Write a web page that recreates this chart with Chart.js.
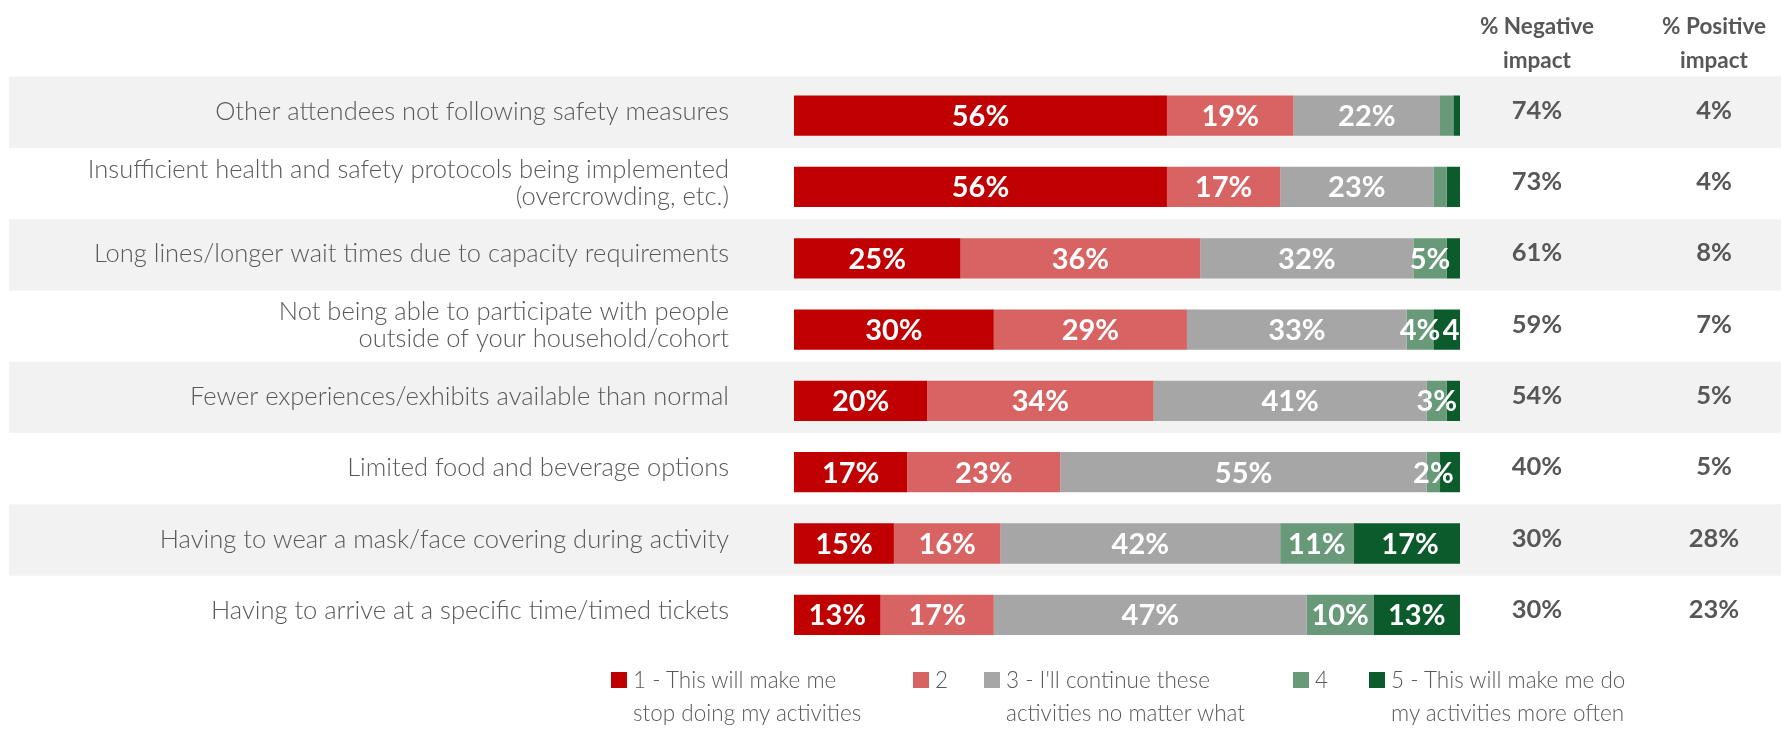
<!DOCTYPE html>
<html>
<head>
<meta charset="utf-8">
<script src="https://cdn.jsdelivr.net/npm/chart.js@4.4.1/dist/chart.umd.min.js"></script>
<style>
  html, body { margin: 0; padding: 0; background: #fff; }
  #wrap { position: relative; width: 1781px; height: 729px; }
  #legend {
    position: absolute; left: 0; top: 663px; width: 100%;
    font-family: Lato, sans-serif; font-weight: 300; font-size: 22.5px;
    color: #595959; line-height: 33px;
  }
  .item { position: absolute; top: 0; display: flex; align-items: flex-start; white-space: nowrap; }
  .swatch { width: 16px; height: 16px; margin: 9px 6px 0 0; flex: none; }
</style>
</head>
<body>
<div id="wrap">
  <canvas id="impact" width="1781" height="729"></canvas>
  <div id="legend"></div>
</div>
<script>
const categories = [
  'Other attendees not following safety measures',
  ['Insufficient health and safety protocols being implemented', '(overcrowding, etc.)'],
  'Long lines/longer wait times due to capacity requirements',
  ['Not being able to participate with people', 'outside of your household/cohort'],
  'Fewer experiences/exhibits available than normal',
  'Limited food and beverage options',
  'Having to wear a mask/face covering during activity',
  'Having to arrive at a specific time/timed tickets'
];

const seriesNames = [
  ['1 - This will make me', 'stop doing my activities'],
  ['2'],
  ["3 - I'll continue these", 'activities no matter what'],
  ['4'],
  ['5 - This will make me do', 'my activities more often']
];
const colors = ['#c00000', '#d86363', '#a6a6a6', '#689a7a', '#0c5b2c'];

const stop      = [56, 56, 25, 30, 20, 17, 15, 13];
const two       = [19, 17, 36, 29, 34, 23, 16, 17];
const continues = [22, 23, 32, 33, 41, 55, 42, 47];
const four      = [2, 2, 5, 4, 3, 2, 11, 10];
const more      = [1, 2, 2, 4, 2, 3, 17, 13];

const negative = [74, 73, 61, 59, 54, 40, 30, 30];
const positive = [4, 4, 8, 7, 5, 5, 28, 23];

// segments too thin to carry a label: [row, series]
const unlabeled = [[0, 3], [0, 4], [1, 3], [1, 4], [2, 4], [4, 4], [5, 4]];

const seriesData = [stop, two, continues, four, more];
const FONT = 'Lato, sans-serif';
const GREY = '#575757';

const tablePlugin = {
  id: 'table',
  beforeDraw(chart) {
    const { ctx, width, scales: { y } } = chart;
    const step = y.getPixelForValue(1) - y.getPixelForValue(0);
    ctx.save();
    ctx.fillStyle = '#f2f2f2';
    categories.forEach((_, i) => {
      if (i % 2) return;
      const c = y.getPixelForValue(i) - 3.5;
      ctx.fillRect(9, c - step / 2, width - 9, step);
    });
    ctx.restore();
  },
  afterDatasetsDraw(chart) {
    const { ctx, chartArea: a } = chart;
    ctx.save();
    ctx.beginPath();
    ctx.rect(a.left, a.top, a.right - a.left, a.bottom - a.top);
    ctx.clip();
    ctx.font = 'bold 29px ' + FONT;
    ctx.fillStyle = '#fff';
    ctx.textBaseline = 'middle';
    chart.data.datasets.forEach((ds, di) => {
      chart.getDatasetMeta(di).data.forEach((bar, i) => {
        if (unlabeled.some(([r, s]) => r === i && s === di)) return;
        const text = ds.data[i] + '%';
        const cx = (bar.x + bar.base) / 2;
        const w = ctx.measureText(text).width;
        // a label running past the bar end starts near the segment centre and gets cut
        if (cx + w / 2 > a.right) {
          ctx.textAlign = 'left';
          ctx.fillText(text, cx - 4, bar.y + 1);
        } else {
          ctx.textAlign = 'center';
          ctx.fillText(text, cx, bar.y + 1);
        }
      });
    });
    ctx.restore();
  },
  afterDraw(chart) {
    const { ctx, scales: { y } } = chart;
    const cols = [1537, 1714];
    ctx.save();
    ctx.fillStyle = GREY;
    ctx.textAlign = 'center';
    ctx.textBaseline = 'middle';
    ctx.font = 'bold 22.5px ' + FONT;
    ctx.fillText('% Negative', cols[0], 27);
    ctx.fillText('impact', cols[0], 61);
    ctx.fillText('% Positive', cols[1], 27);
    ctx.fillText('impact', cols[1], 61);
    ctx.font = 'bold 25.5px ' + FONT;
    categories.forEach((_, i) => {
      const yy = y.getPixelForValue(i) - 5;
      ctx.fillText(negative[i] + '%', cols[0], yy);
      ctx.fillText(positive[i] + '%', cols[1], yy);
    });
    ctx.restore();
  }
};

new Chart(document.getElementById('impact'), {
  type: 'bar',
  data: {
    labels: categories,
    datasets: seriesData.map((data, i) => ({
      label: seriesNames[i].join(' '),
      data,
      backgroundColor: colors[i],
      borderWidth: 0,
      barPercentage: 0.565,
      categoryPercentage: 1
    }))
  },
  options: {
    indexAxis: 'y',
    responsive: false,
    animation: false,
    layout: { padding: { top: 80, bottom: 67, left: 0, right: 321 } },
    plugins: { legend: { display: false }, tooltip: { enabled: false } },
    scales: {
      x: { stacked: true, min: 0, max: 100, display: false },
      y: {
        stacked: true,
        grid: { display: false, drawTicks: false },
        border: { display: false },
        afterFit(scale) { scale.width = 794; },
        ticks: {
          padding: 65,
          labelOffset: -4,
          color: '#595959',
          font: { family: FONT, size: 25.5, weight: '300', lineHeight: 1.06 }
        }
      }
    }
  },
  plugins: [tablePlugin]
});

// legend below the bars, each entry at its own left edge
const legendLeft = [611, 913, 984, 1293, 1369];
const legendEl = document.getElementById('legend');
seriesNames.forEach((lines, i) => {
  const item = document.createElement('div');
  item.className = 'item';
  item.style.left = legendLeft[i] + 'px';
  const sw = document.createElement('span');
  sw.className = 'swatch';
  sw.style.background = colors[i];
  const txt = document.createElement('div');
  txt.innerHTML = lines.join('<br>');
  item.append(sw, txt);
  legendEl.append(item);
});
</script>
</body>
</html>
